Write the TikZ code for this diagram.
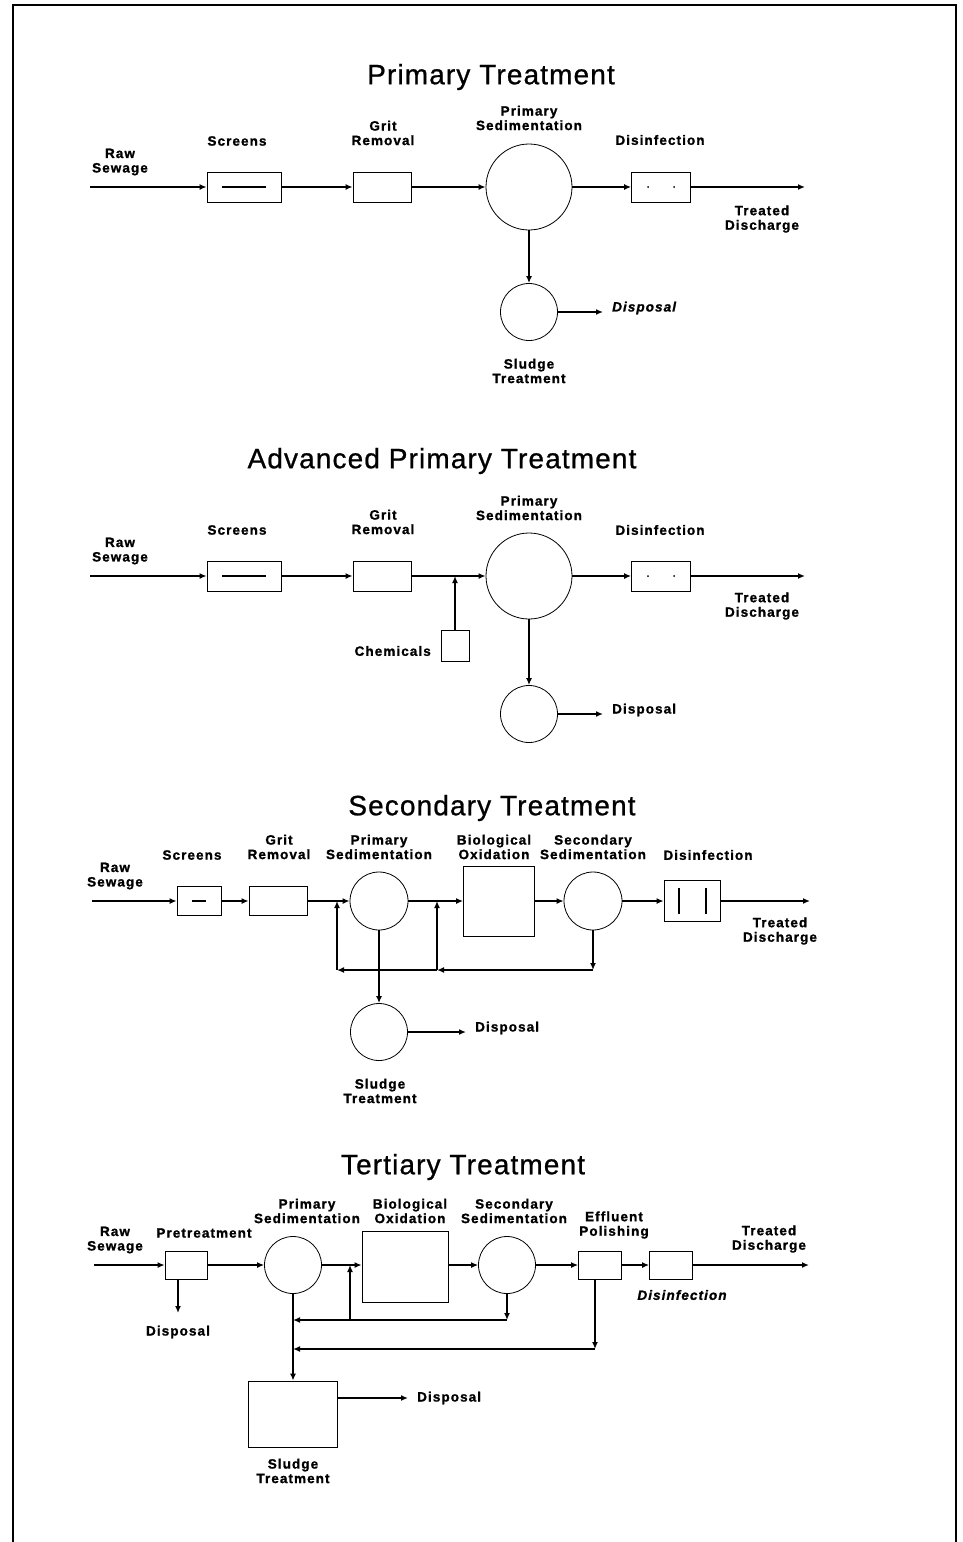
\documentclass[tikz,border=0pt]{standalone}
\usepackage{fontspec}
\setmainfont{Liberation Sans}
\newfontfamily\etiqfont[LetterSpace=8,BoldFeatures={FakeBold=1.2},BoldItalicFeatures={FakeBold=1.2}]{Liberation Sans}
\newfontfamily\titrefont[LetterSpace=4,FakeBold=0.8]{Liberation Sans}
\usetikzlibrary{arrows.meta}

\begin{document}
\begin{tikzpicture}[x=1pt,y=-1pt]
\tikzset{boite/.style={draw, line width=0.8pt, inner sep=0pt},
  bassin/.style={draw, circle, line width=0.8pt, inner sep=0pt},
  etiq/.style={font=\etiqfont\bfseries\fontsize{13.5}{14.5}\selectfont, align=center, inner sep=0pt},
  titre/.style={font=\titrefont\fontsize{28}{30}\selectfont, inner sep=0pt},
  fl/.style={line width=1.6pt, -{Latex[length=7pt,width=6pt]}}}
\useasboundingbox (0,0) rectangle (962,1542);
\draw[line width=2.2pt] (13,1542) -- (13,5) -- (956,5) -- (956,1542);

\node[titre] (T1) at (491,77) {Primary Treatment};
\coordinate (E1) at (90,187);
\node[boite, minimum width=74pt, minimum height=30pt] (Scr1) at (244,187) {};
\node[boite, minimum width=58pt, minimum height=30pt] (Grit1) at (382,187) {};
\node[bassin, minimum size=86pt] (Sed1) at (529,187) {};
\node[boite, minimum width=59pt, minimum height=30pt] (Dis1) at (661,187) {};
\coordinate (S1) at (805,187);
\node[bassin, minimum size=57pt] (Slu1) at (529,312) {};
\coordinate (D1) at (603,312);
\node[etiq] (L1a) at (120,162) {Raw\\Sewage};
\node[etiq] (L1b) at (237,141) {Screens};
\node[etiq] (L1c) at (383,133) {Grit\\Removal};
\node[etiq] (L1d) at (529,118) {Primary\\Sedimentation};
\node[etiq] (L1e) at (660,140) {Disinfection};
\node[etiq] (L1f) at (762,219) {Treated\\Discharge};
\node[etiq, anchor=west] (L1g) at (612,308) {\itshape Disposal};
\node[etiq] (L1h) at (529,371) {Sludge\\Treatment};
\draw[line width=1.2pt] ([xshift=-22pt]Scr1.center) -- ([xshift=22pt]Scr1.center);
\fill ([xshift=-13pt]Dis1.center) circle (1pt);
\fill ([xshift=13pt]Dis1.center) circle (1pt);
\draw[fl] (E1) -- (Scr1);
\draw[fl] (Scr1) -- (Grit1);
\draw[fl] (Grit1) -- (Sed1);
\draw[fl] (Sed1) -- (Dis1);
\draw[fl] (Dis1) -- (S1);
\draw[fl] (Sed1) -- (Slu1);
\draw[fl] (Slu1) -- (D1);

\node[titre] (T2) at (442,461) {Advanced Primary Treatment};
\coordinate (E2) at (90,576);
\node[boite, minimum width=74pt, minimum height=30pt] (Scr2) at (244,576) {};
\node[boite, minimum width=58pt, minimum height=30pt] (Grit2) at (382,576) {};
\node[bassin, minimum size=86pt] (Sed2) at (529,576) {};
\node[boite, minimum width=59pt, minimum height=30pt] (Dis2) at (661,576) {};
\coordinate (S2) at (805,576);
\node[boite, minimum width=28pt, minimum height=31pt] (Chem2) at (455,646) {};
\coordinate (J2) at (455,576);
\node[bassin, minimum size=57pt] (Slu2) at (529,714) {};
\coordinate (D2) at (603,714);
\node[etiq] (L2a) at (120,551) {Raw\\Sewage};
\node[etiq] (L2b) at (237,530) {Screens};
\node[etiq] (L2c) at (383,522) {Grit\\Removal};
\node[etiq] (L2d) at (529,508) {Primary\\Sedimentation};
\node[etiq] (L2e) at (660,530) {Disinfection};
\node[etiq] (L2f) at (762,606) {Treated\\Discharge};
\node[etiq, anchor=east] (L2g) at (431,651) {Chemicals};
\node[etiq, anchor=west] (L2h) at (612,710) {Disposal};
\draw[line width=1.2pt] ([xshift=-22pt]Scr2.center) -- ([xshift=22pt]Scr2.center);
\fill ([xshift=-13pt]Dis2.center) circle (1pt);
\fill ([xshift=13pt]Dis2.center) circle (1pt);
\draw[fl] (E2) -- (Scr2);
\draw[fl] (Scr2) -- (Grit2);
\draw[fl] (Grit2) -- (Sed2);
\draw[fl] (Sed2) -- (Dis2);
\draw[fl] (Dis2) -- (S2);
\draw[fl] (Chem2) -- (J2);
\draw[fl] (Sed2) -- (Slu2);
\draw[fl] (Slu2) -- (D2);

\node[titre] (T3) at (492,808) {Secondary Treatment};
\coordinate (E3) at (92,901);
\node[boite, minimum width=44pt, minimum height=29pt] (Scr3) at (199,901) {};
\node[boite, minimum width=58pt, minimum height=29pt] (Grit3) at (278,901) {};
\node[bassin, minimum size=58pt] (Sed3) at (379,901) {};
\node[boite, minimum width=71pt, minimum height=70pt] (Bio3) at (499,901) {};
\node[bassin, minimum size=58pt] (Sec3) at (593,901) {};
\node[boite, minimum width=56pt, minimum height=41pt] (Dis3) at (692,901) {};
\coordinate (S3) at (810,901);
\node[bassin, minimum size=57pt] (Slu3) at (379,1032) {};
\coordinate (D3) at (466,1032);
\coordinate (R3a) at (593,970);
\coordinate (R3b) at (437,970);
\coordinate (R3c) at (337,970);
\coordinate (J3a) at (437,901);
\coordinate (J3b) at (337,901);
\node[etiq] (L3a) at (115,876) {Raw\\Sewage};
\node[etiq] (L3b) at (192,855) {Screens};
\node[etiq] (L3c) at (279,847) {Grit\\Removal};
\node[etiq] (L3d) at (379,847) {Primary\\Sedimentation};
\node[etiq] (L3e) at (494,847) {Biological\\Oxidation};
\node[etiq] (L3f) at (593,847) {Secondary\\Sedimentation};
\node[etiq] (L3g) at (708,855) {Disinfection};
\node[etiq] (L3h) at (780,931) {Treated\\Discharge};
\node[etiq, anchor=west] (L3i) at (475,1028) {Disposal};
\node[etiq] (L3j) at (380,1091) {Sludge\\Treatment};
\draw[line width=1.2pt] ([xshift=-7pt]Scr3.center) -- ([xshift=7pt]Scr3.center);
\draw[line width=1.4pt] ([xshift=-13pt,yshift=13pt]Dis3.center) -- ([xshift=-13pt,yshift=-13pt]Dis3.center);
\draw[line width=1.4pt] ([xshift=14pt,yshift=13pt]Dis3.center) -- ([xshift=14pt,yshift=-13pt]Dis3.center);
\draw[fl] (E3) -- (Scr3);
\draw[fl] (Scr3) -- (Grit3);
\draw[fl] (Grit3) -- (Sed3);
\draw[fl] (Sed3) -- (Bio3);
\draw[fl] (Bio3) -- (Sec3);
\draw[fl] (Sec3) -- (Dis3);
\draw[fl] (Dis3) -- (S3);
\draw[fl] (Sec3) -- (R3a);
\draw[fl] (R3a) -- (R3b);
\draw[fl] (R3b) -- (R3c);
\draw[fl] (R3b) -- (J3a);
\draw[fl] (R3c) -- (J3b);
\draw[fl] (Sed3) -- (Slu3);
\draw[fl] (Slu3) -- (D3);

\node[titre] (T4) at (463,1167) {Tertiary Treatment};
\coordinate (E4) at (94,1265);
\node[boite, minimum width=42pt, minimum height=28pt] (Pre4) at (186,1265) {};
\coordinate (P4) at (178,1313);
\node[bassin, minimum size=57pt] (Sed4) at (293,1265) {};
\node[boite, minimum width=86pt, minimum height=71pt] (Bio4) at (405,1267) {};
\node[bassin, minimum size=57pt] (Sec4) at (507,1265) {};
\node[boite, minimum width=43pt, minimum height=28pt] (Pol4) at (600,1265) {};
\node[boite, minimum width=43pt, minimum height=28pt] (Dis4) at (671,1265) {};
\coordinate (S4) at (809,1265);
\coordinate (R4a) at (507,1320);
\coordinate (R4b) at (293,1320);
\coordinate (R4j) at (350,1320);
\coordinate (J4) at (350,1265);
\coordinate (R4c) at (595,1349);
\coordinate (R4d) at (293,1349);
\node[boite, minimum width=89pt, minimum height=66pt] (Slu4) at (293,1414) {};
\coordinate (D4) at (408,1398);
\node[etiq] (L4a) at (115,1240) {Raw\\Sewage};
\node[etiq] (L4b) at (204,1233) {Pretreatment};
\node[etiq] (L4c) at (178,1332) {Disposal};
\node[etiq] (L4d) at (307,1211) {Primary\\Sedimentation};
\node[etiq] (L4e) at (410,1211) {Biological\\Oxidation};
\node[etiq] (L4f) at (514,1211) {Secondary\\Sedimentation};
\node[etiq] (L4g) at (614,1225) {Effluent\\Polishing};
\node[etiq] (L4h) at (682,1295) {\itshape Disinfection};
\node[etiq] (L4i) at (769,1239) {Treated\\Discharge};
\node[etiq, anchor=west] (L4j) at (417,1398) {Disposal};
\node[etiq] (L4k) at (293,1471) {Sludge\\Treatment};
\draw[fl] (E4) -- (Pre4);
\draw[fl] (Pre4) -- (Sed4);
\draw[fl] (Sed4) -- (Sed4 -| Bio4.west);
\draw[fl] (Bio4.east |- Sec4) -- (Sec4);
\draw[fl] (Sec4) -- (Pol4);
\draw[fl] (Pol4) -- (Dis4);
\draw[fl] (Dis4) -- (S4);
\draw[fl] (P4 |- Pre4.south) -- (P4);
\draw[fl] (Sec4) -- (R4a);
\draw[fl] (R4a) -- (R4b);
\draw[fl] (R4j) -- (J4);
\draw[fl] (R4c |- Pol4.south) -- (R4c);
\draw[fl] (R4c) -- (R4d);
\draw[fl] (Sed4) -- (Slu4);
\draw[fl] (D4 -| Slu4.east) -- (D4);
\end{tikzpicture}
\end{document}
